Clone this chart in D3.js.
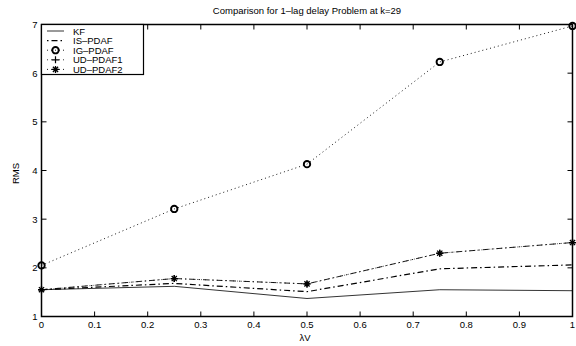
<!DOCTYPE html>
<html><head><meta charset="utf-8">
<script src="https://cdn.jsdelivr.net/npm/d3@7"></script>
<style>body{margin:0;background:#fff}svg{display:block}text{font-family:"Liberation Sans",Arial,sans-serif;fill:#000}</style>
</head><body><svg id="c" width="576" height="346"></svg>
<script>
const lambdaV = [0, 0.25, 0.5, 0.75, 1];
const kf     = [1.55, 1.62, 1.37, 1.55, 1.53];
const isPdaf = [1.55, 1.68, 1.51, 1.98, 2.06];
const igPdaf = [2.05, 3.21, 4.13, 6.23, 6.97];
const ud1    = [1.55, 1.78, 1.67, 2.30, 2.52];
const ud2    = [1.55, 1.78, 1.67, 2.30, 2.52];
const xTicks = [0,0.1,0.2,0.3,0.4,0.5,0.6,0.7,0.8,0.9,1];
const yTicks = [1,2,3,4,5,6,7];
const seriesNames = ["KF","IS\u2013PDAF","IG\u2013PDAF","UD\u2013PDAF1","UD\u2013PDAF2"];
const titleText = "Comparison for 1\u2013lag delay Problem at k=29";

const L=41.5,R=572.5,T=24.5,B=316.5;
const svg=d3.select("#c");
const x=d3.scaleLinear().domain([0,1]).range([L,R]);
const y=d3.scaleLinear().domain([1,7]).range([B,T]);

const styles=[
 {data:kf, dash:null, marker:null, w:0.8, leg:null},
 {data:isPdaf, dash:"6,3,1.5,3", marker:null, w:1.2, leg:"1.5,3,6,3"},
 {data:igPdaf, dash:"1,3", marker:"o", w:0.9, leg:"1,3"},
 {data:ud1, dash:"1,3", marker:"+", w:0.6, leg:"1,3"},
 {data:ud2, dash:"6,3,1.5,3", marker:"*", w:0.9, leg:"1,3"}
];

const g=svg.append("g");
const line=d3.line().x((d,i)=>x(lambdaV[i])).y(d=>y(d));
styles.forEach(s=>{
  g.append("path").attr("d",line(s.data)).attr("fill","none").attr("stroke","#000")
   .attr("stroke-width",s.w).attr("stroke-dasharray",s.dash);
});
function drawMarker(sel,type,cx,cy){
  if(type==="o") sel.append("circle").attr("cx",cx).attr("cy",cy).attr("r",3.2).attr("fill","none").attr("stroke","#000").attr("stroke-width",1.9);
  else if(type==="+"){
    sel.append("path").attr("d",`M${cx-3.5},${cy}H${cx+3.5}M${cx},${cy-3.5}V${cy+3.5}`).attr("stroke","#000").attr("stroke-width",1.2);
  } else if(type==="*"){
    sel.append("path").attr("d",`M${cx-3.5},${cy}H${cx+3.5}M${cx},${cy-3.5}V${cy+3.5}M${cx-2.6},${cy-2.6}L${cx+2.6},${cy+2.6}M${cx-2.6},${cy+2.6}L${cx+2.6},${cy-2.6}`).attr("stroke","#000").attr("stroke-width",1.3);
  }
}
styles.forEach(s=>{
  if(!s.marker) return;
  s.data.forEach((d,i)=>drawMarker(g,s.marker,x(lambdaV[i]),y(d)));
});

svg.append("rect").attr("x",L).attr("y",T).attr("width",R-L).attr("height",B-T).attr("fill","none").attr("stroke","#000").attr("stroke-width",1.5);
const ax=svg.append("g").attr("stroke","#000").attr("stroke-width",1);
xTicks.forEach(t=>{
  ax.append("line").attr("x1",x(t)).attr("x2",x(t)).attr("y1",B).attr("y2",B-5);
  ax.append("line").attr("x1",x(t)).attr("x2",x(t)).attr("y1",T).attr("y2",T+5);
});
yTicks.forEach(t=>{
  ax.append("line").attr("y1",y(t)).attr("y2",y(t)).attr("x1",L).attr("x2",L+5);
  ax.append("line").attr("y1",y(t)).attr("y2",y(t)).attr("x1",R).attr("x2",R-5);
});
const fmt=d3.format("~g");
svg.append("g").selectAll("text").data(xTicks).join("text")
  .attr("x",d=>x(d)).attr("y",B+11.5).attr("text-anchor","middle").attr("font-size",9.5).text(d=>fmt(d));
svg.append("g").selectAll("text").data(yTicks).join("text")
  .attr("x",L-4).attr("y",d=>y(d)+3.5).attr("text-anchor","end").attr("font-size",9.5).text(d=>fmt(d));

svg.append("text").attr("x",305).attr("y",341).attr("text-anchor","middle").attr("font-size",9.5).text("\u03bbV");
svg.append("text").attr("x",(L+R)/2).attr("y",14).attr("text-anchor","middle").attr("font-size",9.5).text(titleText);
svg.append("text").attr("transform",`translate(19,${(T+B)/2+3}) rotate(-90)`).attr("text-anchor","middle").attr("font-size",9.5).text("RMS");

const lg=svg.append("g");
lg.append("rect").attr("x",L).attr("y",T).attr("width",102).attr("height",50).attr("fill","#fff").attr("stroke","#000").attr("stroke-width",1.2);
seriesNames.forEach((n,i)=>{
  const yy=T+6.5+i*9.6, s=styles[i];
  lg.append("line").attr("x1",47).attr("x2",64).attr("y1",yy).attr("y2",yy).attr("stroke","#000").attr("stroke-width",s.w<0.8?0.8:s.w)
    .attr("stroke-dasharray",s.leg);
  if(s.marker) drawMarker(lg,s.marker,55.5,yy);
  lg.append("text").attr("x",73).attr("y",yy+3.5).attr("font-size",9.5).text(n);
});
</script></body></html>
